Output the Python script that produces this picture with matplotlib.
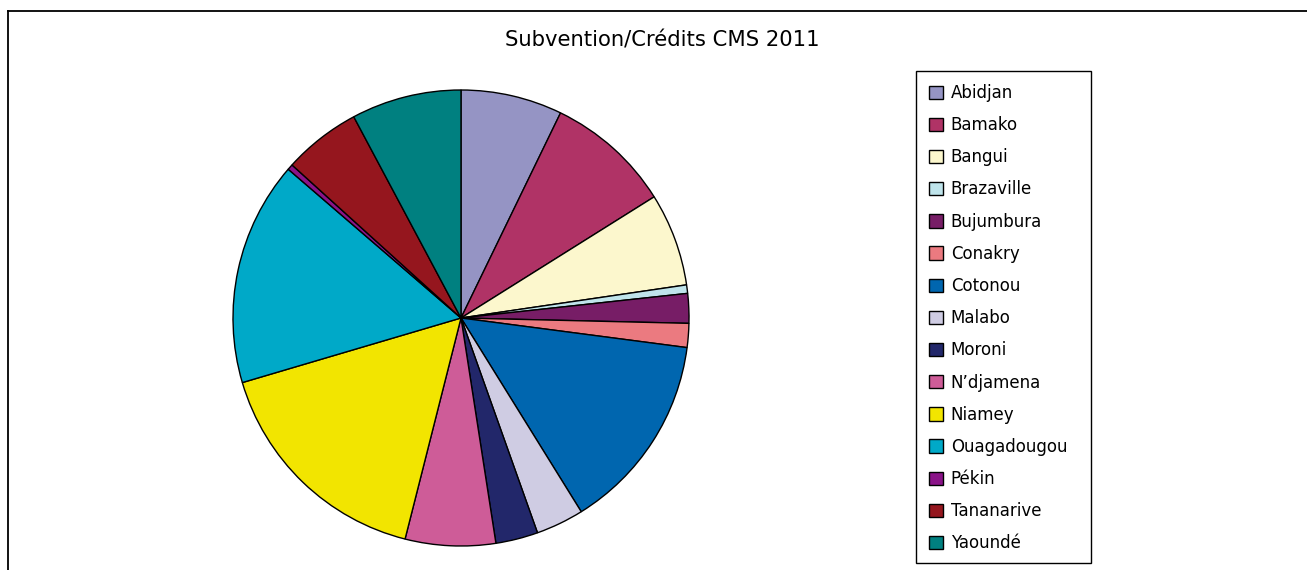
import matplotlib.pyplot as plt
from matplotlib.lines import Line2D
from matplotlib.patches import Rectangle

# data (share of total, %)
cities = ["Abidjan", "Bamako", "Bangui", "Brazaville", "Bujumbura", "Conakry",
          "Cotonou", "Malabo", "Moroni", "N’djamena", "Niamey", "Ouagadougou",
          "Pékin", "Tananarive", "Yaoundé"]
shares = [7.2, 8.9, 6.6, 0.6, 2.1, 1.7, 14.1, 3.4, 3.0, 6.4, 16.5, 15.9, 0.4, 5.5, 7.8]
colors = ["#9594C4", "#B03366", "#FCF7CD", "#BFE4EB", "#771D66", "#EB7A80",
          "#0066AF", "#CFCCE3", "#22276A", "#CE5C98", "#F2E500", "#00A9C8",
          "#8A1388", "#95161E", "#008080"]

W, H = 1307, 570
fig = plt.figure(figsize=(W / 100, H / 100), dpi=100)
plt.rcParams['font.family'] = ['DejaVu Sans']

# outer chart frame (only top and left visible)
fig.add_artist(Line2D([8 / W, 1], [1 - 11 / H, 1 - 11 / H], color="black", lw=1.3))
fig.add_artist(Line2D([8 / W, 8 / W], [0, 1 - 11 / H], color="black", lw=1.3))

cx, cy, r = 461, 318, 228
ax = fig.add_axes([(cx - r) / W, (H - cy - r) / H, 2 * r / W, 2 * r / H])
wedges, _ = ax.pie(shares, colors=colors, startangle=90, counterclock=False,
                   radius=1, wedgeprops=dict(edgecolor="black", linewidth=1))
ax.set_xlim(-1.0, 1.0)
ax.set_ylim(-1.0, 1.0)
ax.set_aspect("equal")
ax.axis("off")

fig.text(662 / W, 1 - 41 / H, "Subvention/Crédits CMS 2011", ha="center", va="center",
         fontsize=15.2)

# legend box
fig.add_artist(Rectangle((916 / W, 1 - 563 / H), 175 / W, 492 / H,
                         transform=fig.transFigure, fill=False,
                         edgecolor="black", lw=1))
fig.legend(wedges, cities, loc="upper left",
           bbox_to_anchor=(919 / W, 1 - 74 / H), fontsize=12,
           frameon=False,
           handlelength=0.85, handleheight=0.85, handletextpad=0.45,
           labelspacing=0.85, borderpad=0.6, borderaxespad=0)

fig.savefig("out.png", dpi=100)
